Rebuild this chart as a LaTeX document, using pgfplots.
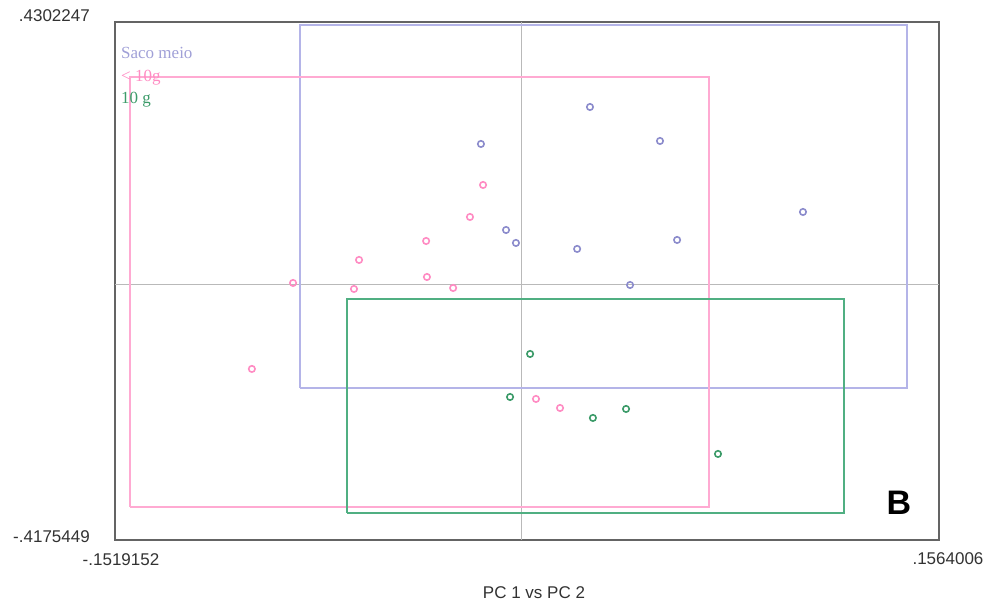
\documentclass[border=0pt]{standalone}
\usepackage{fontspec}
\setmainfont{Liberation Serif}
\newfontfamily\sansf{Liberation Sans}
\usepackage{pgfplots}
\pgfplotsset{compat=1.18}
\definecolor{blueL}{RGB}{180,180,232}
\definecolor{blueP}{RGB}{140,140,204}
\definecolor{blueT}{RGB}{160,160,215}
\definecolor{pinkL}{RGB}{255,170,210}
\definecolor{pinkP}{RGB}{255,140,195}
\definecolor{greenL}{RGB}{80,175,130}
\definecolor{greenP}{RGB}{60,155,105}
\definecolor{frameC}{RGB}{100,100,100}
\definecolor{crossC}{RGB}{185,185,185}
\definecolor{tickC}{RGB}{50,50,50}
\begin{document}
\begin{tikzpicture}[x=1bp,y=1bp]
\path[use as bounding box] (0,0) rectangle (990,610);
\begin{axis}[
  at={(115bp,70bp)}, anchor=south west,
  scale only axis, width=824bp, height=518bp,
  xmin=-0.1519152, xmax=0.1564006,
  ymin=-0.4175449, ymax=0.4302247,
  xtick=\empty, ytick=\empty,
  axis line style={frameC, line width=1.6bp},
  clip=false,
]
% crosshair
\addplot[crossC, line width=1bp] coordinates {(0,-0.4175449) (0,0.4302247)};
\addplot[crossC, line width=1bp] coordinates {(-0.1519152,0) (0.1564006,0)};
% rectangles
\addplot[blueL, line width=1.3bp] coordinates {(-0.0827,-0.1687) (0.1444,-0.1687) (0.1444,0.4254) (-0.0827,0.4254) (-0.0827,-0.1687)};
\addplot[pinkL, line width=1.3bp] coordinates {(-0.1463,-0.3635) (0.0703,-0.3635) (0.0703,0.3402) (-0.1463,0.3402) (-0.1463,-0.3635)};
\addplot[greenL, line width=1.3bp] coordinates {(-0.0651,-0.3733) (0.1209,-0.3733) (0.1209,-0.0231) (-0.0651,-0.0231) (-0.0651,-0.3733)};
% points
\addplot[only marks, mark=o, mark size=3.2bp, blueP, mark options={line width=1.6bp}] coordinates {
(0.0258,0.2911) (0.0520,0.2355) (0.1055,0.1193) (-0.0056,0.0898) (-0.0019,0.0686)
(0.0210,0.0588) (0.0584,0.0735) (0.0408,-0.0002) (-0.0150,0.2306)};
\addplot[only marks, mark=o, mark size=3.2bp, pinkP, mark options={line width=1.6bp}] coordinates {
(-0.0142,0.1635) (-0.0191,0.1111) (-0.0355,0.0718) (-0.0606,0.0408) (-0.0352,0.0129)
(-0.0853,0.0031) (-0.0625,-0.0067) (-0.0254,-0.0051) (-0.1007,-0.1376) (0.0056,-0.1867) (0.0146,-0.2015)};
\addplot[only marks, mark=o, mark size=3.2bp, greenP, mark options={line width=1.6bp}] coordinates {
(0.0034,-0.1131) (-0.0041,-0.1835) (0.0269,-0.2178) (0.0393,-0.2031) (0.0737,-0.2767)};
\end{axis}
% legend texts
\node[anchor=west, inner sep=0, text=blueT, font=\fontsize{17bp}{19bp}\selectfont] at (121,557) {Saco meio};
\node[anchor=west, inner sep=0, text=pinkP, font=\fontsize{17bp}{19bp}\selectfont] at (121,532) {\textless\ 10g};
\node[anchor=west, inner sep=0, text=greenP, font=\fontsize{17bp}{19bp}\selectfont] at (121,510) {10 g};
% corner labels
\node[anchor=east, inner sep=0, text=tickC, font=\sansf\fontsize{17bp}{19bp}\selectfont] at (90,594) {.4302247};
\node[anchor=east, inner sep=0, text=tickC, font=\sansf\fontsize{17bp}{19bp}\selectfont] at (90,73) {-.4175449};
\node[inner sep=0, text=tickC, font=\sansf\fontsize{17bp}{19bp}\selectfont] at (121,50) {-.1519152};
\node[inner sep=0, text=tickC, font=\sansf\fontsize{17bp}{19bp}\selectfont] at (948,51) {.1564006};
\node[inner sep=0, text=tickC, font=\sansf\fontsize{17bp}{19bp}\selectfont] at (534,17) {PC 1 vs PC 2};
\node[inner sep=0, text=black, font=\sansf\bfseries\fontsize{34bp}{36bp}\selectfont] at (899,107) {B};
\end{tikzpicture}
\end{document}
